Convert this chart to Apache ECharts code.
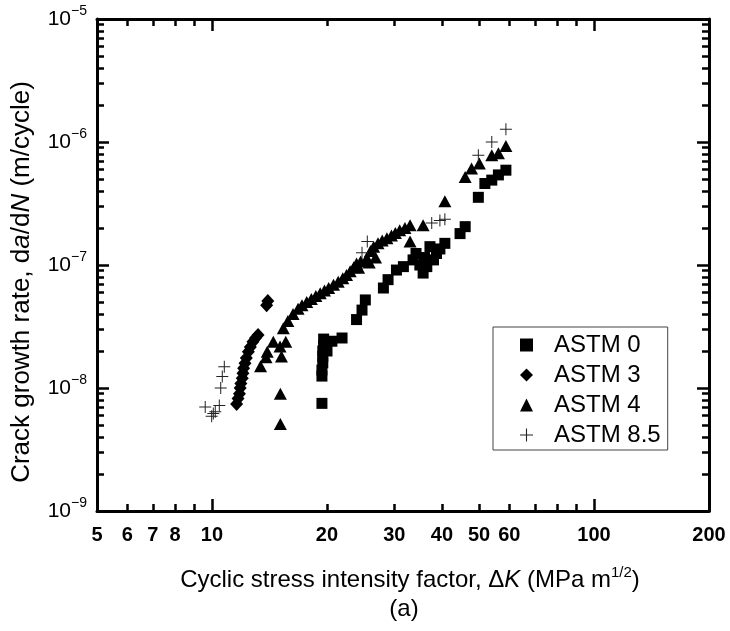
<!DOCTYPE html>
<html>
<head>
<meta charset="utf-8">
<script src="https://cdn.jsdelivr.net/npm/echarts@6/dist/echarts.min.js"></script>
<style>
html,body{margin:0;padding:0;background:#fff;}
#chart{width:730px;height:631px;}
</style>
</head>
<body>
<div id="chart"></div>
<script>
// ---- data (ΔK in MPa m^1/2, da/dN in m/cycle) ----
const seriesNames = ['ASTM 0', 'ASTM 3', 'ASTM 4', 'ASTM 8.5'];

const astm0 = [
  [19.4, 7.5e-9], [19.4, 1.25e-8], [19.4, 1.4e-8], [19.5, 1.6e-8], [19.5, 1.8e-8],
  [19.5, 2.0e-8], [19.6, 2.2e-8], [19.6, 2.5e-8], [20.0, 2.0e-8], [20.6, 2.4e-8],
  [21.9, 2.55e-8], [23.9, 3.6e-8], [24.7, 4.3e-8], [25.2, 5.2e-8], [28.1, 6.5e-8],
  [28.9, 7.6e-8], [30.4, 9.1e-8], [31.7, 9.7e-8], [33.6, 1.1e-7], [34.2, 1.24e-7],
  [35.0, 1.0e-7], [35.7, 8.6e-8], [36.0, 1.15e-7], [36.5, 9.7e-8], [37.2, 1.41e-7],
  [38.0, 1.1e-7], [38.7, 1.24e-7], [39.5, 1.35e-7], [40.7, 1.5e-7], [44.6, 1.8e-7],
  [46.0, 2.05e-7], [49.8, 3.55e-7], [51.8, 4.6e-7], [54.0, 4.9e-7], [56.2, 5.4e-7],
  [58.8, 5.9e-7]
];

const astm3 = [
  [11.6, 7.4e-9], [11.7, 8.2e-9], [11.8, 9.0e-9], [11.85, 1.0e-8], [11.9, 1.09e-8],
  [12.0, 1.2e-8], [12.05, 1.32e-8], [12.1, 1.45e-8], [12.2, 1.59e-8], [12.3, 1.75e-8],
  [12.45, 1.97e-8], [12.6, 2.15e-8], [12.8, 2.38e-8], [13.0, 2.55e-8], [13.2, 2.7e-8],
  [13.9, 4.7e-8], [14.0, 5.1e-8]
];

const astm4 = [
  [15.1, 5.1e-9], [15.1, 9.0e-9], [15.2, 1.8e-8], [13.4, 1.5e-8], [13.85, 1.78e-8],
  [13.95, 1.97e-8], [14.47, 2.38e-8], [15.07, 2.17e-8], [15.6, 2.38e-8], [15.37, 3.06e-8],
  [15.8, 3.5e-8], [16.3, 4.0e-8], [16.8, 4.4e-8], [17.2, 4.7e-8], [17.7, 5.0e-8],
  [18.2, 5.3e-8], [18.7, 5.6e-8], [19.2, 5.9e-8], [19.7, 6.2e-8], [20.2, 6.5e-8],
  [20.8, 6.9e-8], [21.4, 7.3e-8], [22.0, 7.8e-8], [22.5, 8.3e-8], [23.0, 8.9e-8],
  [23.5, 9.6e-8], [23.9, 1.03e-7], [24.2, 9.5e-8], [24.5, 1.07e-7], [25.4, 1.13e-7],
  [25.8, 1.05e-7], [26.0, 1.3e-7], [26.5, 1.41e-7], [26.8, 1.15e-7], [27.2, 1.5e-7],
  [27.9, 1.58e-7], [28.7, 1.65e-7], [29.5, 1.74e-7], [30.2, 1.82e-7], [31.0, 1.92e-7],
  [32.0, 2.0e-7], [33.0, 2.1e-7], [33.0, 1.55e-7], [35.7, 2.1e-7], [40.7, 3.3e-7],
  [46.0, 5.2e-7], [47.8, 6.1e-7], [50.1, 6.7e-7], [54.0, 7.8e-7], [56.2, 8.1e-7],
  [58.8, 9.3e-7]
];

const astm85 = [
  [9.6, 7.0e-9], [9.98, 5.9e-9], [10.08, 6.2e-9], [10.2, 6.4e-9], [10.45, 7.2e-9],
  [10.54, 1.0e-8], [10.64, 1.24e-8], [10.77, 1.49e-8], [24.7, 1.26e-7], [25.5, 1.55e-7],
  [37.6, 2.2e-7], [39.5, 2.3e-7], [40.7, 2.35e-7], [49.8, 7.8e-7], [54.0, 1.0e-6],
  [58.8, 1.27e-6]
];

// ---- axis ticks / labels ----
const xRange = [5, 200];
const xTickLabels = [5, 6, 7, 8, 10, 20, 30, 40, 50, 60, 100, 200];
const xMajorTicks = [10, 100];
const xMinorTicks = [6, 7, 8, 9, 20, 30, 40, 50, 60, 70, 80, 90];
const yRange = [1e-9, 1e-5];
const yDecadeExps = [-9, -8, -7, -6, -5];
const yMinorMantissas = [2, 3, 4, 5, 6, 7, 8, 9];

// ---- build ----
const FONT = '"Liberation Sans", Arial, sans-serif';
const L = Math.log10;
const xl = [L(xRange[0]), L(xRange[1])];
const yl = [L(yRange[0]), L(yRange[1])];
const yMinorLog = [];
yDecadeExps.slice(0, -1).forEach(e => yMinorMantissas.forEach(m => yMinorLog.push(e + L(m))));

const AXC = '#000';
function xOverlay(pos, major, labels) {
  return {
    type: 'value', min: xl[0], max: xl[1], position: pos, gridIndex: 0,
    axisLine: { show: major, onZero: false, lineStyle: { color: AXC, width: 3 } },
    axisTick: {
      show: true, inside: true, length: major ? 12 : 7,
      lineStyle: { color: AXC, width: 2.5 },
      customValues: (major ? xMajorTicks : xMinorTicks).map(L)
    },
    axisLabel: labels ? {
      show: true, customValues: xTickLabels.map(L), showMinLabel: true, showMaxLabel: true,
      formatter: v => String(Math.round(Math.pow(10, v))),
      fontFamily: FONT, fontSize: 20, fontWeight: 'bold', color: '#000', margin: 14
    } : { show: false },
    splitLine: { show: false }
  };
}
function yOverlay(pos, major, labels) {
  return {
    type: 'value', min: yl[0], max: yl[1], position: pos, gridIndex: 0,
    axisLine: { show: major, onZero: false, lineStyle: { color: AXC, width: 3 } },
    axisTick: {
      show: true, inside: true, length: major ? 12 : 7,
      lineStyle: { color: AXC, width: 2.5 },
      customValues: major ? yDecadeExps : yMinorLog
    },
    axisLabel: labels ? {
      show: true, customValues: yDecadeExps, showMinLabel: true, showMaxLabel: true,
      formatter: v => '{b|10}{s|\u2212' + Math.abs(Math.round(v)) + '}',
      margin: 10,
      rich: {
        b: { fontFamily: FONT, fontSize: 21, lineHeight: 30, color: '#000' },
        s: { fontFamily: FONT, fontSize: 14, lineHeight: 14, verticalAlign: 'top', color: '#000' }
      }
    } : { show: false },
    splitLine: { show: false }
  };
}

const plusPath = 'path://M5.5,0H6.5V5.5H12V6.5H6.5V12H5.5V6.5H0V5.5H5.5Z';

const chart = echarts.init(document.getElementById('chart'), null, { renderer: 'canvas' });
chart.setOption({
  animation: false,
  backgroundColor: '#fff',
  grid: { left: 97, right: 21, top: 19, bottom: 120, containLabel: false, outerBoundsMode: 'none' },
  xAxis: [
    { type: 'log', logBase: 10, min: xRange[0], max: xRange[1], show: false, gridIndex: 0 },
    xOverlay('bottom', true, true),
    xOverlay('bottom', false, false),
    xOverlay('top', true, false),
    xOverlay('top', false, false)
  ],
  yAxis: [
    { type: 'log', logBase: 10, min: yRange[0], max: yRange[1], show: false, gridIndex: 0 },
    yOverlay('left', true, true),
    yOverlay('left', false, false),
    yOverlay('right', true, false),
    yOverlay('right', false, false)
  ],
  legend: {
    data: seriesNames,
    orient: 'vertical',
    left: 493, top: 327,
    itemWidth: 13, itemHeight: 13, itemGap: 6,
    padding: [6, 7, 3, 27],
    symbolKeepAspect: true,
    borderColor: '#444', borderWidth: 1,
    backgroundColor: '#fff',
    selectedMode: false,
    textStyle: { fontFamily: FONT, fontSize: 24, lineHeight: 24, color: '#000', padding: [0, 0, 0, 16] }
  },
  series: [
    { name: seriesNames[0], type: 'scatter', data: astm0, symbol: 'rect', symbolSize: 11,
      itemStyle: { color: '#000', opacity: 1 }, xAxisIndex: 0, yAxisIndex: 0 },
    { name: seriesNames[1], type: 'scatter', data: astm3, symbol: 'diamond', symbolSize: [13, 14],
      itemStyle: { color: '#000', opacity: 1 }, xAxisIndex: 0, yAxisIndex: 0 },
    { name: seriesNames[2], type: 'scatter', data: astm4, symbol: 'triangle', symbolSize: [13, 12],
      itemStyle: { color: '#000', opacity: 1 }, xAxisIndex: 0, yAxisIndex: 0 },
    { name: seriesNames[3], type: 'scatter', data: astm85, symbol: plusPath, symbolSize: 12,
      itemStyle: { color: '#222', opacity: 1 }, xAxisIndex: 0, yAxisIndex: 0 }
  ],
  graphic: [
    {
      type: 'text', x: 22, y: 282, rotation: Math.PI / 2,
      style: {
        text: 'Crack growth rate, d{i|a}/d{i|N} (m/cycle)',
        font: '26px ' + FONT, fill: '#000', align: 'center', verticalAlign: 'middle',
        rich: { i: { fontFamily: FONT, fontSize: 26, fontStyle: 'italic', fill: '#000' } }
      }
    },
    {
      type: 'text', x: 410, y: 580,
      style: {
        text: 'Cyclic stress intensity factor, \u0394{i|K} (MPa m{s|1/2})',
        font: '24px ' + FONT, fill: '#000', align: 'center', verticalAlign: 'middle',
        lineHeight: 30,
        rich: {
          i: { fontFamily: FONT, fontSize: 24, fontStyle: 'italic', lineHeight: 30, fill: '#000' },
          s: { fontFamily: FONT, fontSize: 15, lineHeight: 15, verticalAlign: 'top', fill: '#000' }
        }
      }
    },
    {
      type: 'text', x: 404, y: 609,
      style: { text: '(a)', font: '24px ' + FONT, fill: '#000', align: 'center', verticalAlign: 'middle' }
    }
  ]
});
</script>
</body>
</html>
